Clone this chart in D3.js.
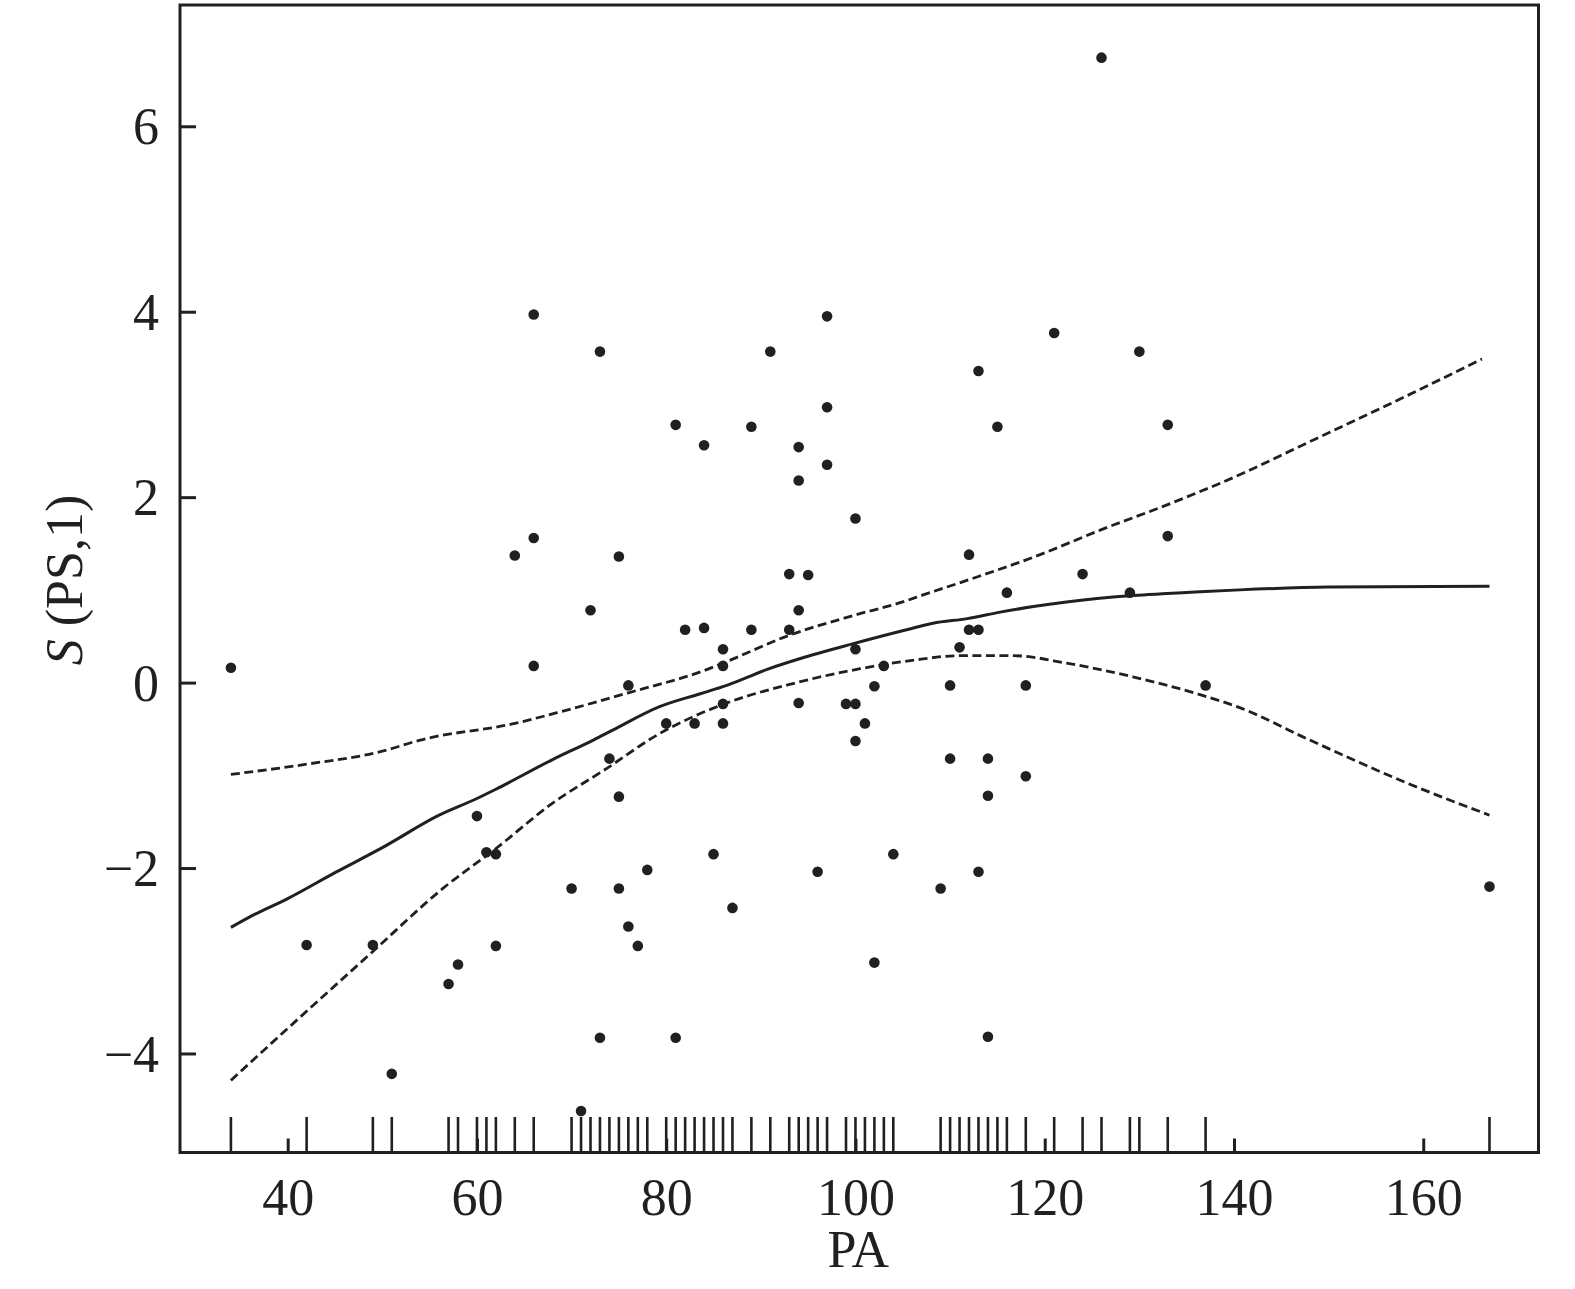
<!DOCTYPE html>
<html>
<head>
<meta charset="utf-8">
<script src="https://cdn.jsdelivr.net/npm/d3@7"></script>
<style>
  html, body { margin: 0; padding: 0; background: #fff; }
  svg { display: block; }
  text { font-family: "Liberation Serif", "Times New Roman", serif; fill: #231f20; }
</style>
</head>
<body>
<svg id="chart" width="1575" height="1289"></svg>
<script>
// ---- data ----
const pointsPA = [34,42,49,51,57,58,60,61,62,62,64,66,66,66,70,71,72,73,73,74,75,75,75,76,76,77,78,80,81,81,82,83,84,84,85,86,86,86,86,87,89,89,91,93,93,94,94,94,94,95,96,97,97,97,99,100,100,100,100,101,102,102,103,104,109,110,110,111,112,112,113,113,113,114,114,114,115,116,118,118,121,124,126,129,130,133,133,137,167];
const pointsS  = [0.16,-2.83,-2.83,-4.22,-3.25,-3.04,-1.44,-1.83,-1.85,-2.84,1.37,3.97,1.56,0.18,-2.22,-4.62,0.78,3.57,-3.83,-0.82,1.36,-1.23,-2.22,-0.03,-2.63,-2.84,-2.02,-0.44,2.78,-3.83,0.57,-0.44,2.56,0.59,-1.85,0.36,0.18,-0.23,-0.44,-2.43,2.76,0.57,3.57,1.17,0.57,2.54,2.18,0.78,-0.22,1.16,-2.04,3.95,2.97,2.35,-0.23,1.77,0.36,-0.23,-0.63,-0.44,-0.04,-3.02,0.18,-1.85,-2.22,-0.03,-0.82,0.38,1.38,0.57,3.36,0.57,-2.04,-0.82,-1.22,-3.82,2.76,0.97,-0.03,-1.01,3.77,1.17,6.74,0.97,3.57,2.78,1.58,-0.03,-2.20];

const fitPA = [34,36.5,40,45,50,56,60,62,68,72.3,74.4,79.3,83.6,86.4,90.6,95.5,99.4,105.4,108.2,111.8,115.3,118.8,122.3,125.8,129.4,132.9,136.4,140.6,150,167];
const fitS  = [-2.64,-2.50,-2.33,-2.05,-1.78,-1.43,-1.25,-1.15,-0.83,-0.62,-0.51,-0.26,-0.12,-0.03,0.14,0.30,0.41,0.57,0.64,0.69,0.76,0.82,0.87,0.91,0.94,0.96,0.98,1.00,1.03,1.04];

const upperPA = [34,42,50,54,64,69,76,84,86,93,100,105,107,112,119,126,133,141,147,158,166.2];
const upperS  = [-0.99,-0.88,-0.74,-0.62,-0.44,-0.31,-0.11,0.13,0.21,0.51,0.73,0.87,0.94,1.11,1.36,1.65,1.92,2.26,2.55,3.08,3.49];

const lowerPA = [34,40,49,56.4,62,68,73.5,79.3,86.4,93.4,100.5,106,111,116.7,122.3,129.4,136.4,140.6,147.6,158.2,167];
const lowerS  = [-4.29,-3.73,-2.90,-2.22,-1.79,-1.30,-0.94,-0.55,-0.22,-0.01,0.15,0.24,0.29,0.29,0.21,0.06,-0.13,-0.27,-0.60,-1.08,-1.43];

const xTicks = [40,60,80,100,120,140,160];
const yTicks = [-4,-2,0,2,4,6];
const xTitle = "PA";

// ---- drawing ----
const ink = "#231f20";
const svg = d3.select("#chart");
const L = 180, R = 1538.5, T = 5, B = 1152.5;

const x = d3.scaleLinear().domain([28.62, 172.18]).range([L, R]);
const y = d3.scaleLinear().domain([-5.068, 7.308]).range([B, T]);

// frame
svg.append("rect").attr("x", L).attr("y", T).attr("width", R - L).attr("height", B - T)
  .attr("fill", "none").attr("stroke", ink).attr("stroke-width", 3);

// axes
const xAxis = svg.append("g").attr("transform", `translate(0,${B})`)
  .call(d3.axisBottom(x).tickValues(xTicks).tickSizeInner(-14).tickSizeOuter(0).tickPadding(26));
const yAxis = svg.append("g").attr("transform", `translate(${L},0)`)
  .call(d3.axisLeft(y).tickValues(yTicks).tickSizeInner(-16).tickSizeOuter(0).tickPadding(21));
[xAxis, yAxis].forEach(g => {
  g.select(".domain").remove();
  g.selectAll(".tick line").attr("stroke", ink).attr("stroke-width", 3);
  g.selectAll(".tick text").attr("fill", ink)
    .style("font-family", '"Liberation Serif", serif').style("font-size", "52px");
});
xAxis.selectAll(".tick text").attr("dy", "0.71em");
yAxis.selectAll(".tick text").attr("dy", "0.34em");

// rug
const rug = Array.from(new Set(pointsPA));
svg.append("g").selectAll("line").data(rug).join("line")
  .attr("x1", d => x(d)).attr("x2", d => x(d))
  .attr("y1", 1117).attr("y2", B)
  .attr("stroke", ink).attr("stroke-width", 2.6);

// curves
const line = d3.line().x(d => x(d[0])).y(d => y(d[1])).curve(d3.curveMonotoneX);
function drawCurve(px, py, dash, w) {
  svg.append("path").datum(px.map((v, i) => [v, py[i]]))
    .attr("d", line).attr("fill", "none").attr("stroke", ink)
    .attr("stroke-width", w).attr("stroke-dasharray", dash);
}
drawCurve(upperPA, upperS, "9,4.5", 2.8);
drawCurve(lowerPA, lowerS, "9,4.5", 2.8);
drawCurve(fitPA, fitS, null, 3);

// points
svg.append("g").selectAll("circle").data(pointsPA.map((v, i) => [v, pointsS[i]])).join("circle")
  .attr("cx", d => x(d[0])).attr("cy", d => y(d[1])).attr("r", 5.3).attr("fill", ink);

// titles
svg.append("text").attr("x", (L + R) / 2 - 1).attr("y", 1267)
  .attr("text-anchor", "middle").style("font-size", "52px").text(xTitle);

const yt = svg.append("text").attr("transform", "translate(82,580) rotate(-90)")
  .attr("text-anchor", "middle").style("font-size", "52px");
yt.append("tspan").style("font-style", "italic").text("S");
yt.append("tspan").text(" (PS,1)");
</script>
</body>
</html>
